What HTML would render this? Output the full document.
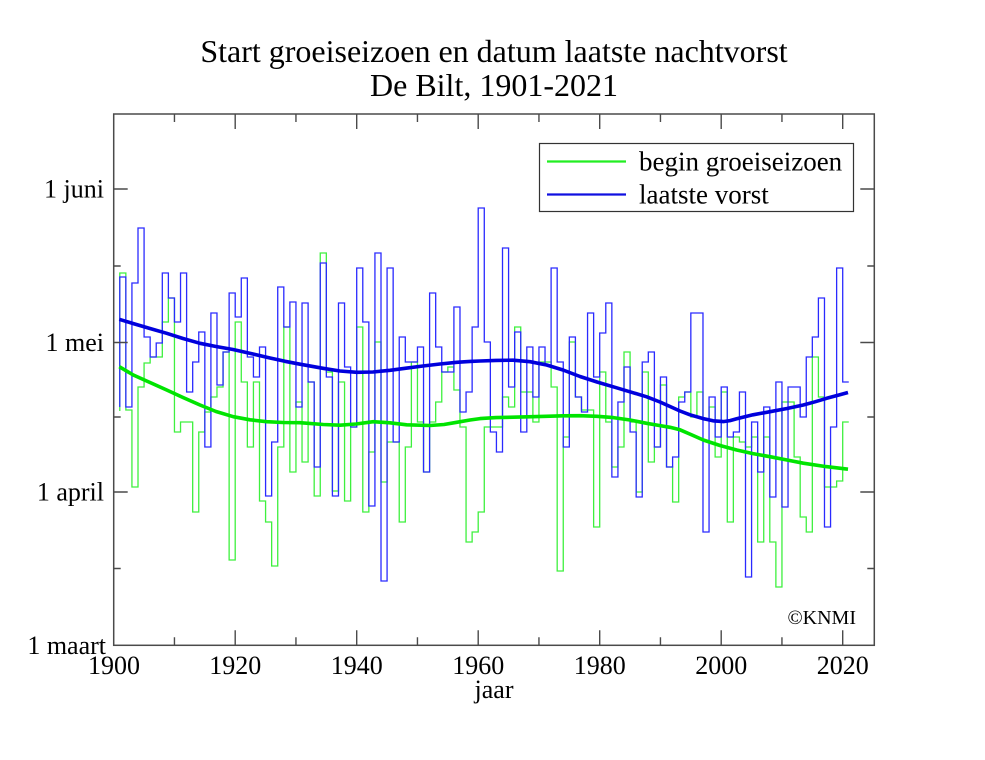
<!DOCTYPE html>
<html><head><meta charset="utf-8">
<style>
html,body{margin:0;padding:0;background:#fff;}
svg{display:block;}
text{font-family:"Liberation Serif","Times New Roman",serif;fill:#000;}
</style></head>
<body>
<svg width="985" height="760" viewBox="0 0 985 760" xmlns="http://www.w3.org/2000/svg">
<rect x="0" y="0" width="985" height="760" fill="#fff"/>
<defs><clipPath id="pc"><rect x="113.7" y="114" width="760.6" height="531.3"/></clipPath></defs>

<!-- Title -->
<text x="494" y="62" font-size="32" text-anchor="middle">Start groeiseizoen en datum laatste nachtvorst</text>
<text x="494" y="96" font-size="32" text-anchor="middle">De Bilt, 1901-2021</text>

<g clip-path="url(#pc)" fill="none" stroke-linejoin="miter">
<!-- green steps -->
<path stroke="#3ef03e" stroke-width="1.3" d="M119.78 411
V273h6.075V410h6.075V487h6.075V387h6.075V363h6.075V357h6.075V357h6.075V322h6.075V298h6.075V432h6.075
V422h6.075V422h6.075V512h6.075V432h6.075V412h6.075V397h6.075V387h6.075V352h6.075V560h6.075V322h6.075
V382h6.075V447h6.075V382h6.075V501h6.075V522h6.075V566h6.075V447h6.075V327h6.075V472h6.075V402h6.075
V462h6.075V382h6.075V496h6.075V253h6.075V372h6.075V491h6.075V382h6.075V501h6.075V427h6.075V327h6.075
V512h6.075V452h6.075V342h6.075V482h6.075V442h6.075V442h6.075V522h6.075V447h6.075V362h6.075V422h6.075
V472h6.075V422h6.075V402h6.075V372h6.075V367h6.075V390h6.075V427h6.075V542h6.075V532h6.075V512h6.075
V427h6.075V427h6.075V427h6.075V397h6.075V407h6.075V327h6.075V392h6.075V392h6.075V422h6.075V362h6.075
V362h6.075V387h6.075V571h6.075V437h6.075V342h6.075V397h6.075V410h6.075V410h6.075V527h6.075V372h6.075
V422h6.075V467h6.075V447h6.075V352h6.075V422h6.075V492h6.075V372h6.075V462h6.075V447h6.075V385h6.075
V467h6.075V502h6.075V397h6.075V392h6.075V417h6.075V392h6.075V420h6.075V407h6.075V457h6.075V392h6.075
V522h6.075V437h6.075V442h6.075V447h6.075V437h6.075V542h6.075V437h6.075V542h6.075V587h6.075V402h6.075
V402h6.075V457h6.075V517h6.075V532h6.075V357h6.075V397h6.075V487h6.075V487h6.075V481h6.075V422h6.075"/>
<!-- blue steps -->
<path stroke="#2a2aff" stroke-width="1.3" d="M119.78 407
V277h6.075V407h6.075V283h6.075V228h6.075V337h6.075V357h6.075V343h6.075V273h6.075V298h6.075V322h6.075
V273h6.075V392h6.075V362h6.075V332h6.075V447h6.075V313h6.075V385h6.075V352h6.075V293h6.075V317h6.075
V278h6.075V357h6.075V377h6.075V347h6.075V496h6.075V442h6.075V287h6.075V327h6.075V302h6.075V407h6.075
V303h6.075V382h6.075V467h6.075V263h6.075V377h6.075V496h6.075V303h6.075V367h6.075V427h6.075V268h6.075
V322h6.075V506h6.075V253h6.075V581h6.075V268h6.075V442h6.075V337h6.075V362h6.075V362h6.075V347h6.075
V472h6.075V293h6.075V347h6.075V372h6.075V372h6.075V307h6.075V412h6.075V392h6.075V327h6.075V208h6.075
V342h6.075V432h6.075V452h6.075V248h6.075V387h6.075V332h6.075V432h6.075V347h6.075V397h6.075V347h6.075
V365h6.075V268h6.075V362h6.075V447h6.075V337h6.075V397h6.075V412h6.075V313h6.075V377h6.075V333h6.075
V303h6.075V477h6.075V402h6.075V367h6.075V432h6.075V497h6.075V362h6.075V352h6.075V447h6.075V377h6.075
V467h6.075V457h6.075V402h6.075V392h6.075V313h6.075V313h6.075V532h6.075V397h6.075V437h6.075V387h6.075
V437h6.075V432h6.075V392h6.075V577h6.075V422h6.075V472h6.075V407h6.075V497h6.075V382h6.075V507h6.075
V387h6.075V387h6.075V417h6.075V357h6.075V337h6.075V298h6.075V527h6.075V427h6.075V268h6.075V382h6.075"/>
<!-- green smooth -->
<polyline stroke="#00e400" stroke-width="3.6" stroke-linejoin="round" stroke-linecap="butt" points="119.3,366.7 133.3,375 150,382.5 166.7,390 183,397.5 200,405 216,411.5 233.3,416.7 250,419.8 266.7,421.7 283,422.5 300,422.7 323.3,424.5 340,425.2 356,424 373.3,421.7 390,422.8 406.7,424.8 430,425.5 444,424.5 456.7,422.3 470,420 480,418.6 496,417.6 513.3,417.2 546,416.3 563,415.8 580,415.7 597,416.3 613.3,417.6 630,420 646.7,423.3 660,425.6 670,427.3 680,429.8 692,435 703.3,440 720,445.5 736.7,450 753,453.6 770,456.7 787,460 803.3,463.2 826,466.6 848,469.2"/>
<!-- blue smooth -->
<polyline stroke="#0000dc" stroke-width="3.6" stroke-linejoin="round" stroke-linecap="butt" points="119.3,319.3 133,323.5 150,328.5 166.7,333.3 183,338.5 200,343.3 216,346.5 233,349.5 253,354 270,358 285,361.3 300,364.2 323,368.3 340,371 356.7,372.3 373,372 390,370.3 406,368.2 423,366 440,364 456.7,362.3 470,361.4 480,361 496,360.4 513,360.2 530,361.7 546.7,365 563,370 580,376.5 597,382 613.3,386.8 630,391.8 646.7,396.8 660,402 670,406.5 680,411 690,414.8 703.3,418.6 713,420.8 723.3,421.6 730,420.6 736.7,418.8 753,414.8 770,411.7 787,408.5 803.3,405 815,401.8 826.7,398.3 838,395.3 848,392.5"/>
</g>

<!-- Frame -->
<rect x="113.7" y="114" width="760.6" height="531.3" fill="none" stroke="#4a4a4a" stroke-width="1.5"/>

<!-- ticks -->
<g stroke="#4a4a4a" stroke-width="1.4">
<!-- bottom/top major (1900..2020 step 20) -->
<path d="M235.2 645.3v-15M356.7 645.3v-15M478.2 645.3v-15M599.7 645.3v-15M721.2 645.3v-15M842.7 645.3v-15"/>
<path d="M174.45 645.3v-8M295.95 645.3v-8M417.45 645.3v-8M538.95 645.3v-8M660.45 645.3v-8M781.95 645.3v-8"/>
<path d="M235.2 114v15M356.7 114v15M478.2 114v15M599.7 114v15M721.2 114v15M842.7 114v15"/>
<path d="M174.45 114v8M295.95 114v8M417.45 114v8M538.95 114v8M660.45 114v8M781.95 114v8"/>
<!-- left/right -->
<path d="M113.7 189h14M113.7 342.5h14M113.7 492h14"/>
<path d="M113.7 266h7M113.7 417h7M113.7 568.5h7"/>
<path d="M874.3 189h-14M874.3 342.5h-14M874.3 492h-14"/>
<path d="M874.3 266h-7M874.3 417h-7M874.3 568.5h-7"/>
</g>

<!-- y labels -->
<g font-size="26" text-anchor="end">
<text x="104" y="197.5">1 juni</text>
<text x="104" y="351">1 mei</text>
<text x="104" y="500.5">1 april</text>
<text x="106" y="654">1 maart</text>
</g>
<!-- x labels -->
<g font-size="26" text-anchor="middle">
<text x="114" y="674">1900</text>
<text x="235.2" y="674">1920</text>
<text x="356.7" y="674">1940</text>
<text x="478.2" y="674">1960</text>
<text x="599.7" y="674">1980</text>
<text x="721.2" y="674">2000</text>
<text x="842.7" y="674">2020</text>
</g>
<text x="494" y="698" font-size="26" text-anchor="middle">jaar</text>

<!-- legend -->
<rect x="539.5" y="143.5" width="314" height="68" fill="#fff" stroke="#333" stroke-width="1.2"/>
<line x1="547" y1="161.5" x2="626" y2="161.5" stroke="#22ee22" stroke-width="2.2"/>
<line x1="547" y1="194.5" x2="626" y2="194.5" stroke="#1010e0" stroke-width="2.2"/>
<text x="639" y="170.5" font-size="27">begin groeiseizoen</text>
<text x="639" y="203.5" font-size="27">laatste vorst</text>

<!-- copyright -->
<text x="856" y="624" font-size="20" text-anchor="end">©KNMI</text>
</svg>
</body></html>
